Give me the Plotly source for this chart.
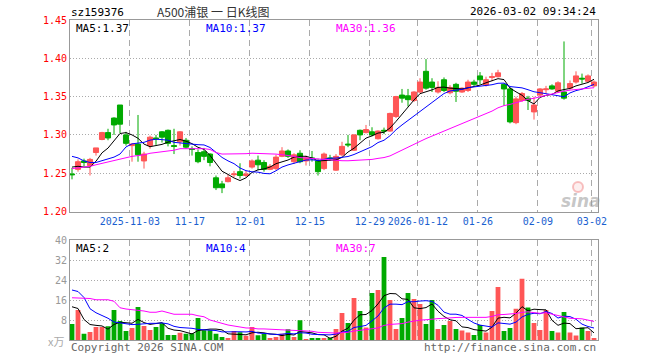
import pandas as pd
import numpy as np
import plotly.graph_objects as go

# ---------------- data ----------------
holidays = ["2026-01-01", "2026-01-02", "2026-02-16", "2026-02-17", "2026-02-18",
            "2026-02-19", "2026-02-20", "2026-02-23"]
dates = [d.strftime("%Y-%m-%d") for d in pd.bdate_range("2025-10-20", "2026-03-02")
         if d.strftime("%Y-%m-%d") not in holidays]

opens = [1.249, 1.255, 1.266, 1.260, 1.277, 1.294, 1.303, 1.322, 1.339, 1.300,
         1.286, 1.288, 1.266, 1.286, 1.296, 1.304, 1.306, 1.286, 1.291, 1.293,
         1.282, 1.277, 1.278, 1.275, 1.244, 1.236, 1.239, 1.248, 1.252, 1.247,
         1.258, 1.267, 1.264, 1.255, 1.256, 1.272, 1.279, 1.265, 1.276, 1.266,
         1.270, 1.266, 1.256, 1.270, 1.254, 1.274, 1.288, 1.280, 1.306, 1.303,
         1.304, 1.295, 1.306, 1.305, 1.324, 1.352, 1.351, 1.345, 1.356, 1.383,
         1.369, 1.356, 1.372, 1.355, 1.366, 1.356, 1.358, 1.369, 1.377, 1.365,
         1.375, 1.376, 1.366, 1.360, 1.316, 1.345, 1.348, 1.330, 1.352, 1.359,
         1.364, 1.357, 1.356, 1.361, 1.369, 1.374, 1.370, 1.364]
highs = [1.257, 1.268, 1.269, 1.270, 1.283, 1.304, 1.308, 1.323, 1.339, 1.304,
         1.289, 1.326, 1.278, 1.299, 1.300, 1.305, 1.307, 1.308, 1.305, 1.296,
         1.285, 1.281, 1.283, 1.276, 1.247, 1.240, 1.248, 1.253, 1.263, 1.253,
         1.268, 1.273, 1.267, 1.262, 1.274, 1.284, 1.281, 1.276, 1.280, 1.273,
         1.279, 1.269, 1.277, 1.274, 1.275, 1.291, 1.300, 1.301, 1.307, 1.313,
         1.310, 1.306, 1.3095, 1.329, 1.351, 1.360, 1.360, 1.357, 1.374, 1.399,
         1.374, 1.370, 1.375, 1.365, 1.368, 1.362, 1.372, 1.372, 1.382, 1.376,
         1.381, 1.385, 1.367, 1.362, 1.350, 1.356, 1.351, 1.350, 1.361, 1.364,
         1.366, 1.370, 1.422, 1.371, 1.383, 1.380, 1.379, 1.371]
lows = [1.242, 1.252, 1.259, 1.247, 1.273, 1.293, 1.293, 1.300, 1.302, 1.286,
        1.265, 1.265, 1.256, 1.282, 1.287, 1.290, 1.285, 1.275, 1.286, 1.282,
        1.273, 1.263, 1.267, 1.259, 1.228, 1.224, 1.238, 1.245, 1.243, 1.245,
        1.256, 1.254, 1.252, 1.254, 1.254, 1.271, 1.270, 1.262, 1.263, 1.260,
        1.265, 1.247, 1.254, 1.266, 1.253, 1.272, 1.284, 1.279, 1.293, 1.302,
        1.298, 1.294, 1.301, 1.304, 1.322, 1.342, 1.337, 1.343, 1.354, 1.359,
        1.356, 1.354, 1.356, 1.353, 1.343, 1.355, 1.356, 1.363, 1.366, 1.363,
        1.370, 1.375, 1.338, 1.315, 1.314, 1.343, 1.3325, 1.320, 1.350, 1.354,
        1.359, 1.355, 1.346, 1.359, 1.367, 1.367, 1.368, 1.362]
closes = [1.248, 1.265, 1.264, 1.268, 1.283, 1.303, 1.296, 1.313, 1.314, 1.289,
          1.288, 1.274, 1.275, 1.297, 1.295, 1.297, 1.289, 1.285, 1.304, 1.284,
          1.281, 1.265, 1.272, 1.264, 1.231, 1.231, 1.244, 1.249, 1.247, 1.249,
          1.266, 1.261, 1.255, 1.259, 1.271, 1.279, 1.272, 1.274, 1.265, 1.270,
          1.269, 1.252, 1.275, 1.269, 1.272, 1.285, 1.287, 1.300, 1.300, 1.307,
          1.300, 1.305, 1.305, 1.328, 1.350, 1.348, 1.346, 1.356, 1.369, 1.361,
          1.362, 1.362, 1.358, 1.362, 1.357, 1.361, 1.369, 1.366, 1.372, 1.372,
          1.376, 1.381, 1.360, 1.317, 1.347, 1.354, 1.345, 1.339, 1.360, 1.360,
          1.360, 1.368, 1.348, 1.367, 1.377, 1.373, 1.377, 1.369]
volumes = [6.4, 12.0, 2.5, 3.2, 5.2, 5.2, 5.5, 12.0, 7.6, 3.6,
           4.8, 13.2, 5.6, 4.0, 5.2, 6.7, 2.0, 2.0, 2.9, 2.5,
           2.7, 8.8, 3.9, 3.9, 2.5, 1.2, 0.8, 3.6, 3.1, 1.7,
           5.2, 1.9, 2.4, 0.8, 1.2, 2.5, 4.3, 1.2, 7.9, 0.4,
           0.5, 0.8, 0.8, 0.9, 4.4, 10.8, 6.8, 16.8, 11.6, 5.0,
           18.8, 20.0, 33.2, 16.0, 4.4, 8.8, 18.8, 16.4, 14.4, 6.4,
           16.0, 4.4, 6.0, 7.6, 4.4, 3.8, 3.0, 2.0, 6.0, 3.0,
           11.6, 21.2, 3.6, 4.8, 12.5, 24.5, 13.0, 6.8, 4.0, 12.0,
           3.6, 3.0, 11.2, 3.0, 1.8, 5.0, 3.6, 0.8]

ma5_head = [1.258, 1.259, 1.258, 1.258]
ma10_head = [1.272, 1.270, 1.266, 1.264, 1.264, 1.266, 1.268, 1.271, 1.275]
ma30_head = [1.256, 1.257, 1.258, 1.259, 1.261, 1.263, 1.265, 1.267, 1.268, 1.270,
             1.272, 1.273, 1.274, 1.276, 1.277, 1.278, 1.279, 1.280, 1.282, 1.282,
             1.282, 1.282, 1.282, 1.281, 1.277, 1.275, 1.275, 1.275, 1.275]
vma5_head = [13.3, 12.6, 8.2, 6.2]
vma10_head = [20.0, 19.4, 17.0, 12.5, 10.9, 9.8, 8.7, 7.2, 6.8]
vma30_head = [16.9, 16.9, 16.9, 16.6, 16.1, 16.1, 16.1, 15.5, 12.9, 12.4,
              12.1, 12.1, 11.6, 11.1, 11.1, 11.6, 11.1, 10.3, 10.3, 10.3,
              10.3, 9.7, 9.3, 8.0, 7.3, 6.7, 6.0, 5.6, 5.1]

price_ticks = [1.20, 1.25, 1.30, 1.35, 1.40, 1.45]
vol_ticks = [8, 16, 24, 32, 40]
tick_dates = ["2025-11-03", "2025-11-17", "2025-12-01", "2025-12-15", "2025-12-29",
              "2026-01-12", "2026-01-26", "2026-02-09", "2026-03-02"]
tick_labels = ["2025-11-03", "11-17", "12-01", "12-15", "12-29",
               "2026-01-12", "01-26", "02-09", "03-02"]
price_ma_labels = ["MA5:1.37", "MA10:1.37", "MA30:1.36"]
vol_ma_labels = ["MA5:2", "MA10:4", "MA30:7"]

# ---------------- styling ----------------
RED = "#ff5656"
GREEN = "#00aa00"
MA_COLORS = ["#000000", "#0000ff", "#ff00ff"]
GRID = "#aaaaaa"
BORDER = "#999999"
MONO = "DejaVu Sans Mono"

W, H = 660, 360
L, R, T, B = 70, 62, 20, 20
PW, PH = W - L - R, H - T - B


def px(xp):
    return (xp - L) / PW


def py(yp):
    return (H - B - yp) / PH


def moving_avg(vals, n, head):
    s = pd.Series(vals, dtype=float).rolling(n).mean().to_numpy()
    s[:len(head)] = head
    return s


idx = list(range(len(dates)))
ma_p = [moving_avg(closes, 5, ma5_head), moving_avg(closes, 10, ma10_head),
        moving_avg(closes, 30, ma30_head)]
ma_v = [moving_avg(volumes, 5, vma5_head), moving_avg(volumes, 10, vma10_head),
        moving_avg(volumes, 30, vma30_head)]
vol_colors = [RED if c >= o else GREEN for o, c in zip(opens, closes)]

fig = go.Figure()
fig.add_trace(go.Candlestick(
    x=idx, open=opens, high=highs, low=lows, close=closes,
    increasing=dict(line=dict(color=RED, width=1), fillcolor=RED),
    decreasing=dict(line=dict(color=GREEN, width=1), fillcolor=GREEN),
    whiskerwidth=0, xaxis="x", yaxis="y", hoverinfo="skip"))
for m, c in zip(ma_p, MA_COLORS):
    fig.add_trace(go.Scatter(x=idx, y=m, mode="lines", line=dict(color=c, width=1),
                             xaxis="x", yaxis="y", hoverinfo="skip"))
fig.add_trace(go.Bar(x=idx, y=volumes, marker=dict(color=vol_colors, line=dict(width=0)),
                     width=0.8, xaxis="x2", yaxis="y2", hoverinfo="skip"))
for m, c in zip(ma_v, MA_COLORS):
    fig.add_trace(go.Scatter(x=idx, y=m, mode="lines", line=dict(color=c, width=1),
                             xaxis="x2", yaxis="y2", hoverinfo="skip"))

xtickvals = [dates.index(d) - 0.35 for d in tick_dates]
xrange = [-1 / 3, len(dates) - 1 / 3]

main_bottom = py(211.5)
vol_top = py(240)

common_x = dict(range=xrange, tickvals=xtickvals, showgrid=True, gridcolor=GRID,
                griddash="6px,4px", gridwidth=1, showline=True, mirror=True,
                linecolor=BORDER, linewidth=1, zeroline=False, ticks="",
                fixedrange=True)
fig.update_layout(
    width=W, height=H, margin=dict(l=L, r=R, t=T, b=B),
    paper_bgcolor="white", plot_bgcolor="white", showlegend=False,
    boxgap=0.08, boxgroupgap=0.08, bargap=0.2,
    xaxis=dict(**common_x, domain=[0, 1], anchor="y", ticktext=tick_labels,
               tickfont=dict(family=MONO, size=10, color="#1a5fd0"),
               rangeslider=dict(visible=False)),
    xaxis2=dict(**common_x, domain=[0, 1], anchor="y2", matches="x",
                showticklabels=False),
    yaxis=dict(domain=[main_bottom, 1], range=[1.20, 1.45], tickvals=price_ticks,
               ticktext=[f"{v:.2f}" for v in price_ticks],
               tickfont=dict(family=MONO, size=10, color="#ff0000"),
               showgrid=True, gridcolor=GRID, griddash="1px,2px", showline=True,
               mirror=True, linecolor=BORDER, linewidth=1, zeroline=False, ticks="",
               fixedrange=True),
    yaxis2=dict(domain=[0, vol_top], range=[0, 40], tickvals=vol_ticks,
                ticktext=[str(v) for v in vol_ticks],
                tickfont=dict(family=MONO, size=10, color="#999999"),
                showgrid=True, gridcolor=GRID, griddash="1px,2px", showline=True,
                mirror=True, linecolor=BORDER, linewidth=1, zeroline=False,
                ticks="", fixedrange=True),
)


def add_text(text, xp, yp, color, size=10, anchor="left", family=MONO, **kw):
    fig.add_annotation(text=text, x=px(xp), y=py(yp), xref="paper", yref="paper",
                       xanchor=anchor, yanchor="middle", showarrow=False,
                       font=dict(family=family, size=size, color=color), **kw)


add_text("sz159376", 69, 12, "#000000", size=11)
add_text("A500浦银 一 日K线图", 213, 11, "#333333", size=12, anchor="center",
         family="Noto Sans CJK SC")
add_text("2026-03-02 09:34:24", 598, 11, "#000000", size=11, anchor="right")
for lab, xp, c in zip(price_ma_labels, [74, 204, 334], MA_COLORS):
    add_text(lab, xp, 28, c, size=11)
for lab, xp, c in zip(vol_ma_labels, [74, 204, 334], MA_COLORS):
    add_text(lab, xp, 248, c, size=11)
add_text("x万", 66, 341, "#aaaaaa", size=11, anchor="right", family="Noto Sans CJK SC")
add_text("Copyright 2026 SINA.COM", 69, 347, "#666666", size=11)
add_text("http://finance.sina.com.cn", 598, 347, "#666666", size=11, anchor="right")
add_text("<b><i>sina</i></b>", 581, 201, "rgba(150,150,150,0.55)", size=17,
         anchor="center", family="DejaVu Sans")

# faint logo mark of the watermark
fig.add_shape(type="circle", xref="paper", yref="paper",
              x0=px(573), x1=px(583), y0=py(192), y1=py(182),
              line=dict(color="rgba(240,120,120,0.45)", width=2),
              fillcolor="rgba(240,150,150,0.15)")

fig.write_html("out.html")
